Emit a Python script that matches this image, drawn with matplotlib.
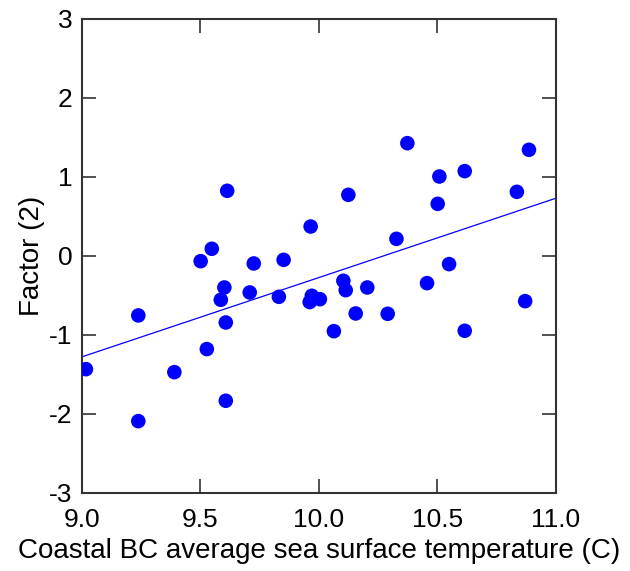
import matplotlib
matplotlib.use("Agg")
import matplotlib.pyplot as plt
import numpy as np

plt.rcParams['font.family'] = ['Liberation Sans', 'DejaVu Sans']
plt.rcParams['axes.unicode_minus'] = False

# sea surface temperature (C) and factor 2 scores
sst = [9.017, 9.238, 9.238, 9.390, 9.501, 9.548, 9.527, 9.613, 9.601, 9.586,
       9.607, 9.607, 9.725, 9.708, 9.851, 9.831, 9.965, 9.970, 9.961, 10.004,
       10.063, 10.103, 10.113, 10.124, 10.155, 10.204, 10.290, 10.327, 10.373, 10.456,
       10.501, 10.508, 10.549, 10.615, 10.615, 10.835, 10.870, 10.886]
factor2 = [-1.435, -0.755, -2.093, -1.473, -0.068, 0.089, -1.181, 0.823, -0.401, -0.557,
           -0.844, -1.835, -0.097, -0.464, -0.051, -0.519, 0.371, -0.506, -0.586, -0.549,
           -0.954, -0.316, -0.435, 0.772, -0.730, -0.401, -0.734, 0.215, 1.426, -0.346,
           0.658, 1.004, -0.105, 1.072, -0.949, 0.810, -0.574, 1.342]

xticks = [9.0, 9.5, 10.0, 10.5, 11.0]
yticks = [-3, -2, -1, 0, 1, 2, 3]

fig = plt.figure(figsize=(6.3, 5.71), dpi=100)
ax = fig.add_axes([0.130, 0.137, 0.7525, 0.830])

ax.scatter(sst, factor2, s=110, color='#0000ff', edgecolors='none', zorder=3)

# least squares line across the whole x range
slope, icpt = np.polyfit(sst, factor2, 1)
xl = np.array([9.0, 11.0])
ax.plot(xl, slope * xl + icpt, color='#0000ff', lw=0.9, zorder=2)

ax.set_xlim(9.0, 11.0)
ax.set_ylim(-3, 3)
ax.set_xticks(xticks)
ax.set_xticklabels(['%.1f' % t for t in xticks])
ax.set_yticks(yticks)
ax.tick_params(direction='in', length=10, width=1.2, color='#333333',
               top=True, right=True, labelsize=19)
ax.tick_params(axis='x', pad=11)
ax.tick_params(axis='y', pad=7)
for s in ax.spines.values():
    s.set_linewidth(1.5)
    s.set_color('#333333')

ax.set_xlabel('Coastal BC average sea surface temperature (C)', fontsize=20, labelpad=4)
ax.set_ylabel('Factor (2)', fontsize=20, labelpad=3)

fig.savefig('out.png', dpi=100)
